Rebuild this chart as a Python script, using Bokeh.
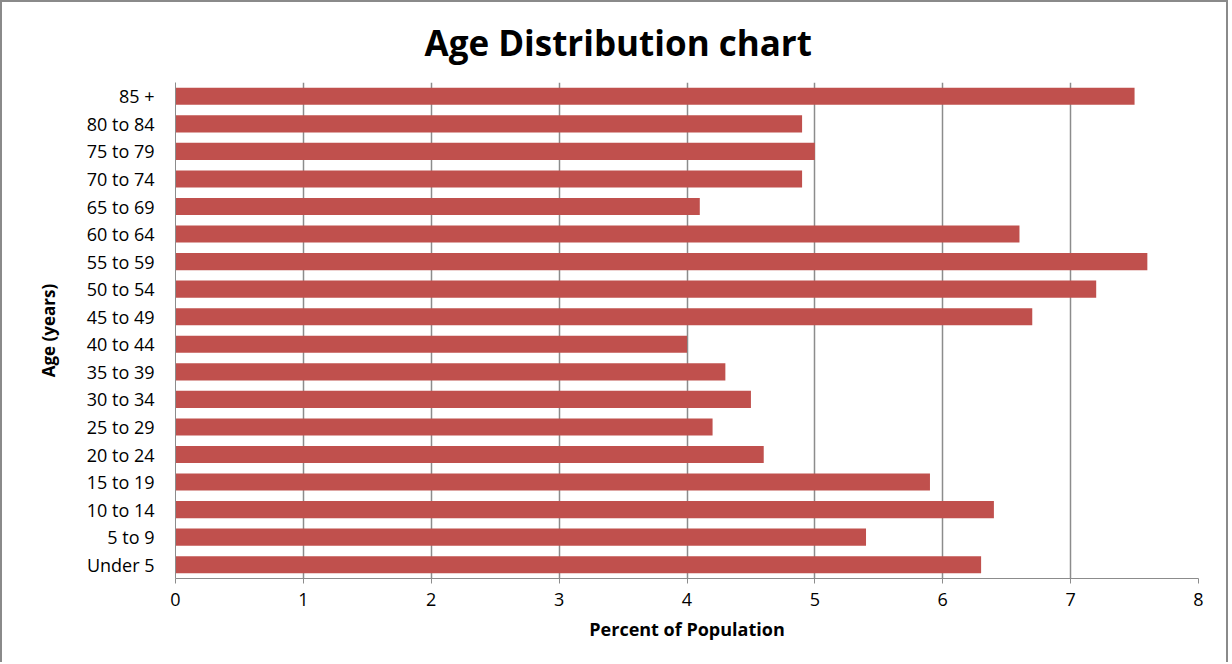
from bokeh.plotting import figure
from bokeh.embed import file_html
from bokeh.resources import INLINE
from bokeh.models import FixedTicker, Range1d, FactorRange

categories = ["Under 5", "5 to 9", "10 to 14", "15 to 19", "20 to 24", "25 to 29",
              "30 to 34", "35 to 39", "40 to 44", "45 to 49", "50 to 54", "55 to 59",
              "60 to 64", "65 to 69", "70 to 74", "75 to 79", "80 to 84", "85 +"]
values = [6.3, 5.4, 6.4, 5.9, 4.6, 4.2, 4.5, 4.3, 4.0, 6.7, 7.2, 7.6,
          6.6, 4.1, 4.9, 5.0, 4.9, 7.5]
x_ticks = [0, 1, 2, 3, 4, 5, 6, 7, 8]

FONT = "Open Sans"
GRAY = "#8c8c8c"

p = figure(width=1228, height=662, output_backend="svg", toolbar_location=None,
           y_range=FactorRange(factors=categories, range_padding=0),
           x_range=Range1d(0, 8),
           min_border_left=173, min_border_right=32, min_border_top=80, min_border_bottom=86)
p.styles = {"border": "2px solid #8a8a8a", "border-bottom": "none"}

p.hbar(y=categories, right=values, left=0, height=0.62, color="#C0504D", line_color=None)

p.title.text = "Age Distribution chart"
p.title.text_font = FONT
p.title.text_font_size = "35px"
p.title.text_font_style = "bold"
p.title.align = "left"
p.title.vertical_align = "top"
p.title.offset = 249
p.title.standoff = 30
p.title.text_color = "black"

p.outline_line_color = None
p.ygrid.grid_line_color = None
p.xgrid.grid_line_color = GRAY
p.xgrid.grid_line_width = 1.5
p.xgrid.ticker = FixedTicker(ticks=x_ticks)

p.xaxis.ticker = FixedTicker(ticks=x_ticks)
p.xaxis.axis_label = "Percent of Population"
p.xaxis.axis_label_text_font = FONT
p.xaxis.axis_label_text_font_size = "18px"
p.xaxis.axis_label_text_font_style = "bold"
p.xaxis.axis_label_text_color = "black"
p.xaxis.axis_label_standoff = 8
p.xaxis.major_label_text_font = FONT
p.xaxis.major_label_text_font_size = "18px"
p.xaxis.major_label_text_color = "black"
p.xaxis.major_label_standoff = 9
p.xaxis.major_tick_out = 5
p.xaxis.major_tick_in = 0
p.xaxis.minor_tick_line_color = None
p.xaxis.axis_line_color = GRAY
p.xaxis.major_tick_line_color = GRAY

p.yaxis.axis_label = "Age (years)"
p.yaxis.axis_label_text_font = FONT
p.yaxis.axis_label_text_font_size = "17px"
p.yaxis.axis_label_text_font_style = "bold"
p.yaxis.axis_label_text_color = "black"
p.yaxis.axis_label_standoff = 24
p.yaxis.major_label_text_font = FONT
p.yaxis.major_label_text_font_size = "18px"
p.yaxis.major_label_text_color = "black"
p.yaxis.major_label_standoff = 15
p.yaxis.major_tick_line_color = None
p.yaxis.minor_tick_line_color = None
p.yaxis.axis_line_color = GRAY

open("out.html", "w").write(file_html(p, INLINE))
